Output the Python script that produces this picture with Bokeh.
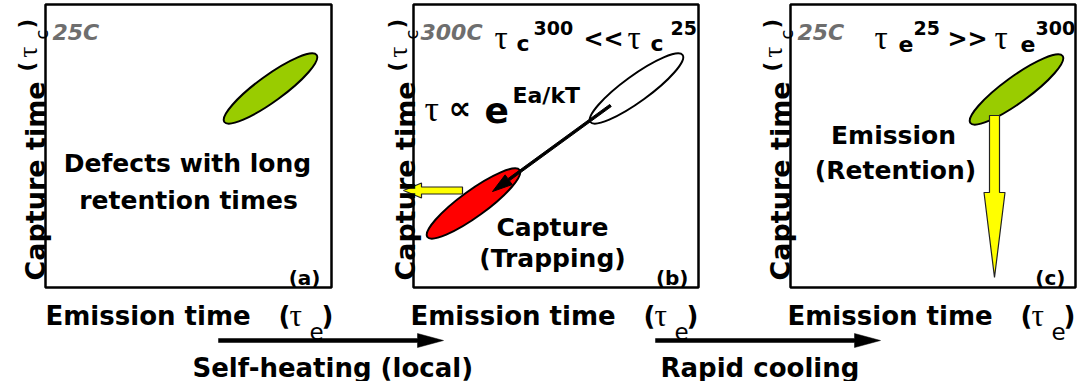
import math
from bokeh.plotting import figure
from bokeh.models import Range1d
from bokeh.core.properties import value
from bokeh.embed import file_html
from bokeh.resources import INLINE

# ---------------- data (schematic) ----------------
panel_tags = ["(a)", "(b)", "(c)"]
panel_temps = ["25C", "300C", "25C"]
box_left = [45, 413, 790]
box_right = [331, 698, 1075]
box_top = [4, 4, 4]
box_bottom = [287, 287, 287]

x_label = "Emission time"
y_label = "Capture time"

# defect distributions drawn as ellipses (centre, size, tilt)
ell_x = [270, 636, 473, 1016]
ell_y = [88, 88, 203, 89]
ell_w = [114, 114, 114, 114]
ell_h = [26, 26, 26, 26]
ell_tilt_deg = [36, 36, 36, 36]
ell_fill = ["#99cc00", "#ffffff", "#ff0000", "#99cc00"]

note_text = ["Defects with long", "retention times", "Capture", "(Trapping)",
             "Emission", "(Retention)"]
note_x = [187, 188, 552, 552, 893, 895]
note_y = [163, 200, 227, 258, 135, 170]

process_text = ["Self-heating (local)", "Rapid cooling"]
process_x = [192, 660]
process_arrow_x0 = [218, 655]
process_arrow_x1 = [443, 880]

# ---------------- figure ----------------
W, H = 1078, 381
p = figure(width=W, height=H, x_range=Range1d(0, W), y_range=Range1d(H, 0),
           toolbar_location=None, output_backend="svg", title=None,
           x_axis_location=None, y_axis_location=None, min_border=0,
           background_fill_color="white", border_fill_color="white",
           outline_line_color=None)
p.grid.grid_line_color = None


def put(texts, xs, ys, size, font="DejaVu Sans", style="bold", color="black",
        align="left", baseline="alphabetic", angle=0.0):
    p.text(x=xs, y=ys, text=texts, text_font=value(font),
           text_font_size=value(f"{size}px"), text_font_style=style,
           text_color=color, text_align=align, text_baseline=baseline, angle=angle)


def arrow_poly(x0, y0, x1, y1, shaft, head_w, head_len):
    L = math.hypot(x1 - x0, y1 - y0)
    ux, uy = (x1 - x0) / L, (y1 - y0) / L
    nx, ny = -uy, ux
    bx, by = x1 - ux * head_len, y1 - uy * head_len
    s, h = shaft / 2, head_w / 2
    xs = [x0 + nx * s, bx + nx * s, bx + nx * h, x1, bx - nx * h, bx - nx * s, x0 - nx * s]
    ys = [y0 + ny * s, by + ny * s, by + ny * h, y1, by - ny * h, by - ny * s, y0 - ny * s]
    return xs, ys


# panel frames
p.quad(left=box_left, right=box_right, top=box_top, bottom=box_bottom,
       fill_color=None, line_color="black", line_width=2.5)

# ellipses
p.ellipse(x=ell_x, y=ell_y, width=ell_w, height=ell_h,
          angle=[math.radians(a) for a in ell_tilt_deg],
          fill_color=ell_fill, line_color="black", line_width=2)

# black arrow in (b)
bx, by = arrow_poly(610, 105, 492, 191, 2.6, 12, 20)
p.patch(bx, by, fill_color="black", line_color="black", line_width=1)

# yellow arrow in (b)
yx, yy = arrow_poly(462, 190, 403, 190, 7, 15, 18)
p.patch(yx, yy, fill_color="#ffff00", line_color="#222222", line_width=1.2)

# yellow arrow in (c)
cx, cy = arrow_poly(994, 115, 994, 277, 10, 21, 85)
p.patch(cx, cy, fill_color="#ffff00", line_color="#222222", line_width=1.2)

# process arrows at the bottom
for a0, a1 in zip(process_arrow_x0, process_arrow_x1):
    ax, ay = arrow_poly(a0, 340, a1, 340, 4, 14, 26)
    p.patch(ax, ay, fill_color="black", line_color="black", line_width=0.5)

# temperatures
put(panel_temps, [b + 7 for b in box_left], [32, 32, 32], 22,
    style="bold italic", color="#6e6e6e")

# panel tags
put(panel_tags, [320, 688, 1065], [277, 277, 277], 20, align="right")

# x labels
lab_left = [45, 410, 787]
put([x_label] * 3, lab_left, [315] * 3, 26)
put(["("] * 3, [l + 233 for l in lab_left], [315] * 3, 26)
put(["τ"] * 3, [l + 244 for l in lab_left], [315] * 3, 31, font="Liberation Serif",
    style="normal")
put(["e"] * 3, [l + 264 for l in lab_left], [331] * 3, 23, style="normal")
put([")"] * 3, [l + 288 for l in lab_left], [315] * 3, 26, align="right")

# y labels (rotated)
yl_base = [35, 405, 780]
put([y_label] * 3, yl_base, [280] * 3, 27, angle=math.pi / 2)
put(["("] * 3, [b - 9 for b in yl_base], [71] * 3, 21, angle=math.pi / 2)
put(["τ"] * 3, [b - 8 for b in yl_base], [57] * 3, 27, font="Liberation Serif",
    style="normal", angle=math.pi / 2)
put(["c"] * 3, [b + 6 for b in yl_base], [39] * 3, 18, style="normal", angle=math.pi / 2)
put([")"] * 3, [b - 9 for b in yl_base], [28] * 3, 21, angle=math.pi / 2)

# notes inside panels
put(note_text, note_x, note_y, 25, align="center")

# relation headers
put(["τ", "τ", "τ", "τ"], [494, 627, 874, 994], [37] * 4, 33,
    font="Liberation Serif", style="normal")
put(["c", "c", "e", "e"], [516, 650, 898, 1020], [43] * 4, 22)
put(["300", "25", "25", "300"], [533, 670, 913, 1035], [27] * 4, 19)
put(["<<", ">>"], [583, 947], [38, 38], 24)

# Arrhenius relation
put(["τ"], [424], [108], 36, font="Liberation Serif", style="normal")
put(["∝"], [448], [107], 32)
put(["e"], [484], [109], 36)
put(["Ea/kT"], [512], [95], 22)

# process captions
put(process_text, process_x, [367, 367], 26)

open("out.html", "w").write(file_html(p, INLINE))
